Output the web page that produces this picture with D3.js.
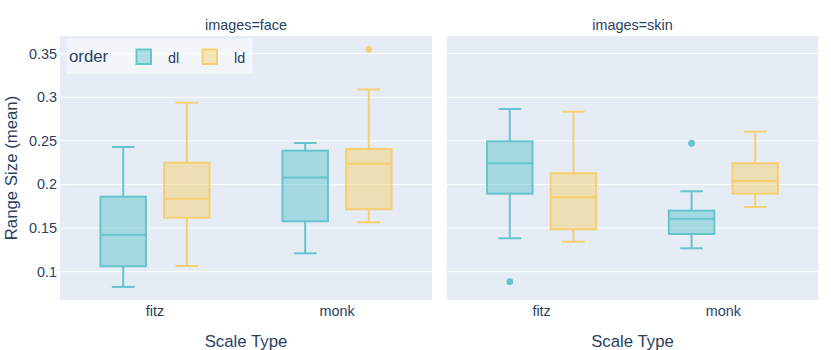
<!DOCTYPE html>
<html>
<head>
<meta charset="utf-8">
<script src="https://d3js.org/d3.v7.min.js"></script>
<style>
  body { margin: 0; background: #fff; }
  text { font-family: "Liberation Sans", Arial, sans-serif; fill: #2a3f5f; }
</style>
</head>
<body>
<div id="chart"></div>
<script>
// facets, categories and groups
var facets = ["face", "skin"];
var scaleTypes = ["fitz", "monk"];
var orders = ["dl", "ld"];

// box stats per facet, one row per scale type: [lower whisker, q1, median, q3, upper whisker]
var faceDl = [[0.0825, 0.1062, 0.1424, 0.186, 0.243], [0.121, 0.1578, 0.208, 0.2388, 0.2476]];
var faceLd = [[0.1065, 0.1619, 0.1837, 0.225, 0.2938], [0.1566, 0.1716, 0.2239, 0.2407, 0.309]];
var skinDl = [[0.1383, 0.1895, 0.2243, 0.2495, 0.2866], [0.1268, 0.1432, 0.1608, 0.170, 0.1922]];
var skinLd = [[0.1344, 0.1486, 0.1853, 0.2128, 0.2835], [0.1742, 0.1895, 0.204, 0.2243, 0.2606]];

// outliers (facet, scale type, order, value)
var outlierFacet = ["face", "skin", "skin"];
var outlierScale = ["monk", "fitz", "monk"];
var outlierOrder = ["ld", "dl", "dl"];
var outlierValue = [0.355, 0.0885, 0.2473];

var yTicks = [0.1, 0.15, 0.2, 0.25, 0.3, 0.35];
var yTickLabels = ["0.1", "0.15", "0.2", "0.25", "0.3", "0.35"];

var colors = { dl: "rgb(102,197,204)", ld: "rgb(246,207,113)" };

var stats = { face: { dl: faceDl, ld: faceLd }, skin: { dl: skinDl, ld: skinLd } };

// dimensions
var W = 831, H = 350;
var plotTop = 36, plotBottom = 300;
var panels = [{ x0: 60, x1: 432 }, { x0: 446.7, x1: 818.3 }];

var svg = d3.select("#chart").append("svg")
  .attr("width", W)
  .attr("height", H);

var y = d3.scaleLinear()
  .domain([0.0675, 0.3703])
  .range([plotBottom, plotTop]);

var boxW = 45.5, offset = 31.8, capW = 22.7;

facets.forEach(function (facet, fi) {
  var p = panels[fi];
  var x = d3.scalePoint()
    .domain(scaleTypes)
    .range([p.x0, p.x1])
    .padding(0.522);
  var xo = d3.scalePoint()
    .domain(orders)
    .range([-offset, offset]);

  var g = svg.append("g");

  // background
  g.append("rect")
    .attr("x", p.x0).attr("y", plotTop)
    .attr("width", p.x1 - p.x0).attr("height", plotBottom - plotTop)
    .attr("fill", "#E5ECF6");

  // grid
  g.selectAll(".grid")
    .data(yTicks)
    .enter().append("line")
    .attr("x1", p.x0).attr("x2", p.x1)
    .attr("y1", function (d) { return y(d); })
    .attr("y2", function (d) { return y(d); })
    .attr("stroke", "#fff")
    .attr("stroke-width", 1);

  // facet title
  g.append("text")
    .attr("x", (p.x0 + p.x1) / 2).attr("y", 29.5)
    .attr("text-anchor", "middle")
    .style("font-size", "14.4px")
    .text("images=" + facet);

  // x tick labels
  g.selectAll(".xt")
    .data(scaleTypes)
    .enter().append("text")
    .attr("x", function (d) { return x(d); })
    .attr("y", 316)
    .attr("text-anchor", "middle")
    .style("font-size", "14.4px")
    .text(function (d) { return d; });

  // x axis title
  g.append("text")
    .attr("x", (p.x0 + p.x1) / 2).attr("y", 346.5)
    .attr("text-anchor", "middle")
    .style("font-size", "16.8px")
    .text("Scale Type");

  // boxes
  orders.forEach(function (o) {
    var c = colors[o];
    scaleTypes.forEach(function (s, si) {
      var d = stats[facet][o][si];
      var cx = x(s) + xo(o);
      var bg = g.append("g")
        .attr("stroke", c)
        .attr("stroke-width", 2);
      // whiskers
      bg.append("line")
        .attr("x1", cx).attr("x2", cx)
        .attr("y1", y(d[0])).attr("y2", y(d[1]));
      bg.append("line")
        .attr("x1", cx).attr("x2", cx)
        .attr("y1", y(d[3])).attr("y2", y(d[4]));
      bg.append("line")
        .attr("x1", cx - capW / 2).attr("x2", cx + capW / 2)
        .attr("y1", y(d[0])).attr("y2", y(d[0]));
      bg.append("line")
        .attr("x1", cx - capW / 2).attr("x2", cx + capW / 2)
        .attr("y1", y(d[4])).attr("y2", y(d[4]));
      // box
      bg.append("rect")
        .attr("x", cx - boxW / 2).attr("y", y(d[3]))
        .attr("width", boxW).attr("height", y(d[1]) - y(d[3]))
        .attr("fill", c).attr("fill-opacity", 0.5);
      // median
      bg.append("line")
        .attr("x1", cx - boxW / 2).attr("x2", cx + boxW / 2)
        .attr("y1", y(d[2])).attr("y2", y(d[2]));
    });
  });

  // outliers
  outlierValue.forEach(function (v, i) {
    if (outlierFacet[i] !== facet) return;
    g.append("circle")
      .attr("cx", x(outlierScale[i]) + xo(outlierOrder[i]))
      .attr("cy", y(v))
      .attr("r", 3.4)
      .attr("fill", colors[outlierOrder[i]]);
  });
});

// y tick labels
svg.selectAll(".yt")
  .data(yTicks)
  .enter().append("text")
  .attr("x", 57)
  .attr("y", function (d) { return y(d) + 5; })
  .attr("text-anchor", "end")
  .style("font-size", "14.4px")
  .text(function (d, i) { return yTickLabels[i]; });

// y axis title
svg.append("text")
  .attr("transform", "translate(17," + ((plotTop + plotBottom) / 2) + ") rotate(-90)")
  .attr("text-anchor", "middle")
  .style("font-size", "16.8px")
  .text("Range Size (mean)");

// legend
var lg = svg.append("g");
lg.append("rect")
  .attr("x", 66.7).attr("y", 39)
  .attr("width", 185.6).attr("height", 35)
  .attr("fill", "rgba(255,255,255,0.5)");
lg.append("text")
  .attr("x", 69).attr("y", 61.5)
  .style("font-size", "16.8px")
  .text("order");
var legendX = [135.5, 201.5];
orders.forEach(function (o, i) {
  lg.append("rect")
    .attr("x", legendX[i] + 1).attr("y", 49.5)
    .attr("width", 14.5).attr("height", 14.5)
    .attr("fill", colors[o]).attr("fill-opacity", 0.5)
    .attr("stroke", colors[o]).attr("stroke-width", 2);
  lg.append("text")
    .attr("x", legendX[i] + 32.5).attr("y", 62.5)
    .style("font-size", "14.4px")
    .text(o);
});
</script>
</body>
</html>
